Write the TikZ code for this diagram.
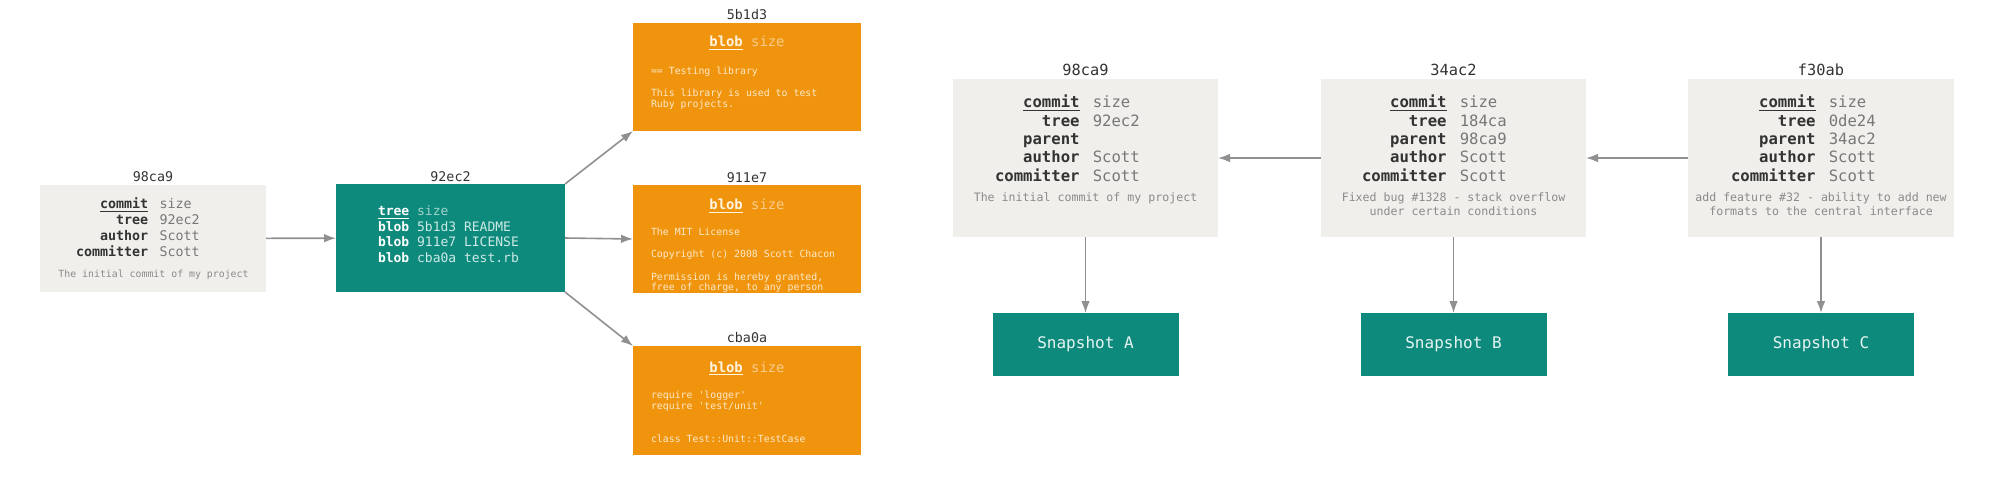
\documentclass[tikz,border=0pt]{standalone}
\usepackage{fontspec}
\usetikzlibrary{arrows.meta}
\newfontfamily\gitmono{DejaVu Sans Mono}
\definecolor{boxgray}{HTML}{F0EFEB}
\definecolor{gitteal}{HTML}{0E8A7D}
\definecolor{gitorange}{HTML}{F0940E}
\definecolor{titlecol}{HTML}{333333}
\definecolor{labcol}{HTML}{333333}
\definecolor{valcol}{HTML}{777777}
\definecolor{desccol}{HTML}{8A8A8A}
\definecolor{tsize}{HTML}{9FD3CC}
\definecolor{tval}{HTML}{CDEAE6}
\definecolor{bhead}{HTML}{FFF5E0}
\definecolor{bsize}{HTML}{F8CC8C}
\definecolor{bbody}{HTML}{FCE9C8}
\definecolor{snaptext}{HTML}{E6F4F2}
\definecolor{arrowgray}{HTML}{909090}
\newlength\pxu \setlength\pxu{0.75pt}
\newcommand\lab[1]{\textbf{\color{labcol}#1}}
\newcommand\val[1]{{\color{valcol}#1}}
\begin{document}
\begin{tikzpicture}[x=0.75pt,y=-0.75pt,
  gbox/.style={fill=boxgray, draw=none, inner sep=0pt, outer sep=0pt},
  tbox/.style={fill=gitteal, draw=none, inner sep=0pt, outer sep=0pt},
  obox/.style={fill=gitorange, draw=none, inner sep=0pt, outer sep=0pt},
  txt/.style={inner sep=0pt, outer sep=0pt},
  ltitle/.style={txt, anchor=base, text=titlecol, font=\gitmono\fontsize{10}{12}\selectfont},
  rtitle/.style={txt, anchor=base, text=titlecol, font=\gitmono\fontsize{11.5}{13.8}\selectfont},
  ltab/.style={txt, anchor=base west, font=\gitmono\fontsize{10}{11.8}\selectfont},
  rtab/.style={txt, anchor=base west, font=\gitmono\fontsize{11.7}{13.7}\selectfont},
  ldesc/.style={txt, anchor=base, text=desccol, font=\gitmono\fontsize{7.4}{8.9}\selectfont},
  rdesc/.style={txt, anchor=base, text=desccol, font=\gitmono\fontsize{8.7}{10.1}\selectfont},
  treetab/.style={txt, anchor=base west, text=white, font=\gitmono\fontsize{9.75}{11.6}\selectfont},
  bhd/.style={txt, anchor=base, font=\gitmono\fontsize{10.4}{12.5}\selectfont},
  bbd/.style={txt, anchor=base west, text=bbody, font=\gitmono\fontsize{7.4}{8.25}\selectfont},
  snap/.style={tbox, minimum width=186\pxu, minimum height=63\pxu, text=snaptext, font=\gitmono\fontsize{12}{14}\selectfont},
  conn/.style={draw=arrowgray, line width=1.2pt, -{Latex[length=9pt,width=6.5pt]}}
]
\useasboundingbox (0,0) rectangle (2001,477);

% ---------- left: commit / tree / blobs ----------
\node[gbox, minimum width=226\pxu, minimum height=107\pxu] (LC) at (153,238.5) {};
\node[ltitle] (LCt) at (153,182) {98ca9};
\node[ltab] (LCtab) at (76,209) {\begin{tabular}[t]{@{}r@{\hspace{0.85em}}l@{}}
\lab{\underline{commit}} & \val{size}\\
\lab{tree} & \val{92ec2}\\
\lab{author} & \val{Scott}\\
\lab{committer} & \val{Scott}
\end{tabular}};
\node[ldesc] (LCd) at (153.5,277) {The initial commit of my project};

\node[tbox, minimum width=229\pxu, minimum height=108\pxu] (T) at (450.5,238) {};
\node[ltitle] (Tt) at (450.5,182) {92ec2};
\node[treetab] (Ttab) at (378,216) {\begin{tabular}[t]{@{}l@{}}
\textbf{\underline{tree}} {\color{tsize}size}\\
\textbf{blob} {\color{tval}5b1d3 README}\\
\textbf{blob} {\color{tval}911e7 LICENSE}\\
\textbf{blob} {\color{tval}cba0a test.rb}
\end{tabular}};

\node[obox, minimum width=228\pxu, minimum height=108\pxu] (B1) at (747,77) {};
\node[ltitle] (B1t) at (747,20) {5b1d3};
\node[bhd] (B1h) at (747,47) {\textbf{\color{bhead}\underline{blob}} {\color{bsize}size}};
\node[bbd] (B1b) at (651,75) {\begin{tabular}[t]{@{}l@{}}
== Testing library\\
\mbox{}\\
This library is used to test\\
Ruby projects.
\end{tabular}};

\node[obox, minimum width=228\pxu, minimum height=108\pxu] (B2) at (747,239) {};
\node[ltitle] (B2t) at (747,182.5) {911e7};
\node[bhd] (B2h) at (747,210) {\textbf{\color{bhead}\underline{blob}} {\color{bsize}size}};
\begin{scope}
\clip (B2.south west) rectangle (B2.north east);
\node[bbd] (B2b) at (651,236) {\begin{tabular}[t]{@{}l@{}}
The MIT License\\
\mbox{}\\
Copyright (c) 2008 Scott Chacon\\
\mbox{}\\
Permission is hereby granted,\\
free of charge, to any person
\end{tabular}};
\end{scope}

\node[obox, minimum width=228\pxu, minimum height=109\pxu] (B3) at (747,400.5) {};
\node[ltitle] (B3t) at (747,342) {cba0a};
\node[bhd] (B3h) at (747,372) {\textbf{\color{bhead}\underline{blob}} {\color{bsize}size}};
\node[bbd] (B3b) at (651,398) {\begin{tabular}[t]{@{}l@{}}
require 'logger'\\
require 'test/unit'\\
\mbox{}\\
\mbox{}\\
class Test::Unit::TestCase
\end{tabular}};

\draw[conn] (LC) -- (T);
\draw[conn] (T.north east) -- (B1.south west);
\draw[conn] (T.east) -- (B2.west);
\draw[conn] (T.south east) -- (B3.north west);

% ---------- right: commit history ----------
\node[gbox, minimum width=265\pxu, minimum height=158\pxu] (RC1) at (1085.5,158) {};
\node[rtitle] (RC1t) at (1085.5,75.5) {98ca9};
\node[rtab] (RC1tab) at (995,108) {\begin{tabular}[t]{@{}r@{\hspace{0.85em}}l@{}}
\lab{\underline{commit}} & \val{size}\\
\lab{tree} & \val{92ec2}\\
\lab{parent} & \\
\lab{author} & \val{Scott}\\
\lab{committer} & \val{Scott}
\end{tabular}};
\node[rdesc] (RC1d) at (1085.5,202) {The initial commit of my project};

\node[gbox, minimum width=265\pxu, minimum height=158\pxu] (RC2) at (1453.5,158) {};
\node[rtitle] (RC2t) at (1453.5,75.5) {34ac2};
\node[rtab] (RC2tab) at (1362,108) {\begin{tabular}[t]{@{}r@{\hspace{0.85em}}l@{}}
\lab{\underline{commit}} & \val{size}\\
\lab{tree} & \val{184ca}\\
\lab{parent} & \val{98ca9}\\
\lab{author} & \val{Scott}\\
\lab{committer} & \val{Scott}
\end{tabular}};
\node[rdesc] (RC2d) at (1453.5,202) {\begin{tabular}[t]{@{}c@{}}
Fixed bug \#1328 - stack overflow\\
under certain conditions
\end{tabular}};

\node[gbox, minimum width=266\pxu, minimum height=158\pxu] (RC3) at (1821,158) {};
\node[rtitle] (RC3t) at (1821,75.5) {f30ab};
\node[rtab] (RC3tab) at (1731,108) {\begin{tabular}[t]{@{}r@{\hspace{0.85em}}l@{}}
\lab{\underline{commit}} & \val{size}\\
\lab{tree} & \val{0de24}\\
\lab{parent} & \val{34ac2}\\
\lab{author} & \val{Scott}\\
\lab{committer} & \val{Scott}
\end{tabular}};
\node[rdesc] (RC3d) at (1821,202) {\begin{tabular}[t]{@{}c@{}}
add feature \#32 - ability to add new\\
formats to the central interface
\end{tabular}};

\node[snap] (SA) at (1085.5,344.5) {Snapshot A};
\node[snap] (SB) at (1453.5,344.5) {Snapshot B};
\node[snap] (SC) at (1821,344.5) {Snapshot C};

\draw[conn] (RC2.west) -- (RC1.east);
\draw[conn] (RC3.west) -- (RC2.east);
\draw[conn] (RC1.south) -- (SA.north);
\draw[conn] (RC2.south) -- (SB.north);
\draw[conn] (RC3.south) -- (SC.north);
\end{tikzpicture}
\end{document}
